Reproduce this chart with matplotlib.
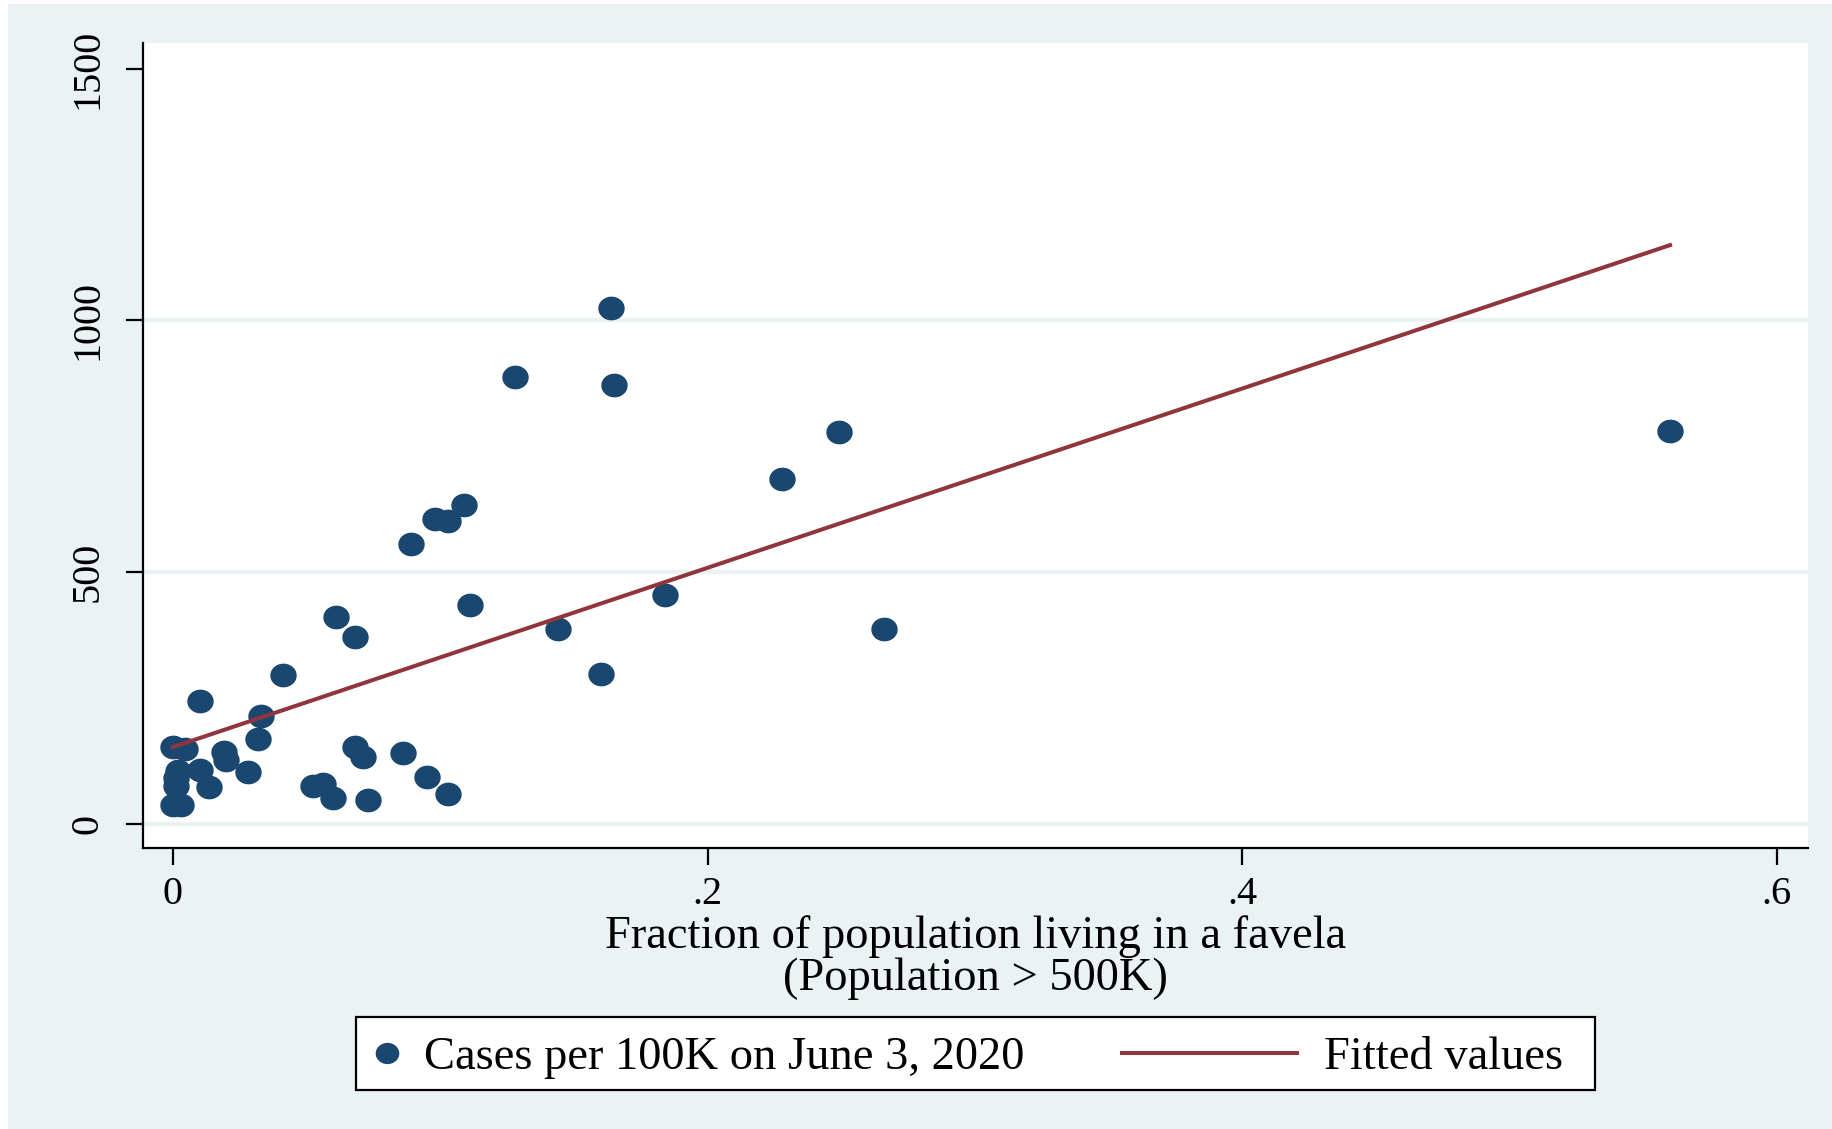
import numpy as np
import matplotlib
matplotlib.use("Agg")
import matplotlib.pyplot as plt
from matplotlib.lines import Line2D
from matplotlib.patches import Rectangle
from matplotlib.path import Path

plt.rcParams['font.family'] = ['Liberation Serif', 'DejaVu Serif']

# favela share vs cases per 100K, cities with population > 500K
favela_share = [0.164, 0.128, 0.165, 0.249, 0.560, 0.228, 0.109, 0.098, 0.103, 0.089,
                0.184, 0.144, 0.266, 0.160,
                0.111, 0.061, 0.068, 0.041, 0.010, 0.033, 0.032, 0.000, 0.0045, 0.019,
                0.020, 0.068, 0.071, 0.086, 0.010, 0.002, 0.028, 0.001, 0.001, 0.0135,
                0.0525, 0.056, 0.060, 0.073, 0.095, 0.103, 0.000, 0.003]
cases_100k = [1024, 887, 871, 778, 780, 685, 634, 606, 601, 555,
              455, 388, 388, 297,
              434, 410, 372, 295, 243, 214, 168, 153, 149, 143,
              127, 153, 132, 140, 107, 105, 102, 92, 76, 73,
              76, 80, 52, 47, 93, 60, 37, 37]

xticks = [0, 0.2, 0.4, 0.6]
xticklabels = ['0', '.2', '.4', '.6']
yticks = [0, 500, 1000, 1500]
ygrid = [0, 500, 1000]

navy = '#1a476f'
maroon = '#90353b'
bg = '#eaf2f3'

x = np.array(favela_share)
y = np.array(cases_100k)
slope, intercept = np.polyfit(x, y, 1)
xfit = np.array([x.min(), x.max()])
yfit = intercept + slope * xfit

# slightly wide ellipse marker, like the stata export
t = np.linspace(0, 2 * np.pi, 60)
ell = Path(np.column_stack([1.12 * np.cos(t), np.sin(t)]), closed=True)

fig = plt.figure(figsize=(18.32, 11.29), dpi=100, facecolor=bg)
fig.patches.append(Rectangle((0, 0), 8 / 1832, 1, transform=fig.transFigure,
                             facecolor='white', edgecolor='none', zorder=-1))
fig.patches.append(Rectangle((0, 1 - 4 / 1129), 1, 4 / 1129, transform=fig.transFigure,
                             facecolor='white', edgecolor='none', zorder=-1))

ax = fig.add_axes([143 / 1832, 1 - 848 / 1129, 1665 / 1832, 805 / 1129])
ax.set_facecolor('white')
for v in ygrid:
    ax.axhline(v, color=bg, lw=3, zorder=0)

ax.plot(x, y, linestyle='none', marker=ell, ms=18, color=navy, mec=navy, zorder=2)
ax.plot(xfit, yfit, color=maroon, lw=2.9, zorder=3)

ax.set_xlim(-0.0112, 0.6116)
ax.set_ylim(-48, 1551)
ax.spines['top'].set_visible(False)
ax.spines['right'].set_visible(False)
ax.spines['left'].set_linewidth(1.6)
ax.spines['bottom'].set_linewidth(1.6)

ax.set_xticks(xticks)
ax.set_xticklabels(xticklabels)
ax.set_yticks(yticks)
ax.tick_params(axis='both', length=12, width=1.6, labelsize=29)
ax.tick_params(axis='x', pad=8)
ax.tick_params(axis='y', pad=14, labelrotation=90)
for lab in ax.get_yticklabels():
    lab.set_va('center')

ax.set_xlabel('Fraction of population living in a favela\n(Population > 500K)',
              fontsize=33.5, linespacing=0.98, labelpad=2)

# legend box drawn in figure coordinates
fig.patches.append(Rectangle((356 / 1832, 1 - 1090 / 1129), 1239 / 1832, 73 / 1129,
                             transform=fig.transFigure, facecolor='white',
                             edgecolor='black', lw=1.6))
ly = 1 - 1053 / 1129
fig.lines.append(Line2D([387 / 1832], [ly], transform=fig.transFigure, linestyle='none',
                        marker=ell, ms=16, color=navy))
fig.lines.append(Line2D([1122 / 1832, 1297 / 1832], [ly, ly], transform=fig.transFigure,
                        color=maroon, lw=2.9))
ty = 1 - 1058 / 1129
fig.text(424 / 1832, ty, 'Cases per 100K on June 3, 2020', fontsize=33.5, va='center')
fig.text(1324 / 1832, ty, 'Fitted values', fontsize=33.5, va='center')

fig.savefig('out.png', dpi=100, facecolor=bg)
